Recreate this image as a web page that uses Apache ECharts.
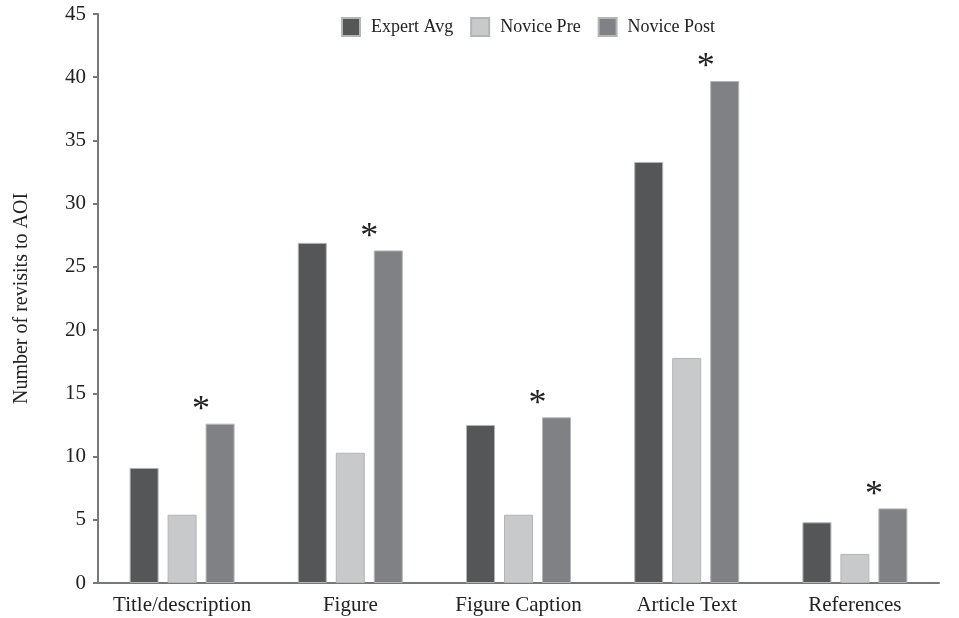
<!DOCTYPE html>
<html>
<head>
<meta charset="utf-8">
<script src="https://cdn.jsdelivr.net/npm/echarts@6/dist/echarts.min.js"></script>
<style>
  html, body { margin: 0; padding: 0; background: #fff; }
  #chart { width: 959px; height: 618px; }
</style>
</head>
<body>
<div id="chart"></div>
<script>
// Average number of revisits to each area of interest (AOI)
const categories = ['Title/description', 'Figure', 'Figure Caption', 'Article Text', 'References'];
const expertAvg  = [9.1, 26.9, 12.5, 33.3, 4.8];
const novicePre  = [5.4, 10.3, 5.4, 17.8, 2.3];
const novicePost = [12.6, 26.3, 13.1, 39.7, 5.9];
const yTicks = { min: 0, max: 45, interval: 5 };

const serif = '"Liberation Serif", "Times New Roman", serif';
const border = '#b4b5b7';

function barSeries(name, data, color, extra) {
  return Object.assign({
    name: name,
    type: 'bar',
    data: data,
    barWidth: 29,
    barGap: '31%',
    itemStyle: { color: color, borderColor: border, borderWidth: 1 }
  }, extra || {});
}

const chart = echarts.init(document.getElementById('chart'), null, { renderer: 'canvas' });
chart.setOption({
  animation: false,
  textStyle: { fontFamily: serif },
  legend: {
    top: 12,
    left: 336,
    itemWidth: 18,
    itemHeight: 18,
    itemGap: 17,
    icon: 'rect',
    textStyle: { fontFamily: serif, fontSize: 18, color: '#222', padding: [0, 0, 0, 6] },
    data: ['Expert Avg', 'Novice Pre', 'Novice Post']
  },
  grid: { left: 98, right: 20, top: 14, bottom: 35, containLabel: false },
  xAxis: {
    type: 'category',
    data: categories,
    axisLine: { lineStyle: { color: '#77787a', width: 2 } },
    axisTick: { show: false },
    axisLabel: { fontFamily: serif, fontSize: 21, color: '#222', margin: 12, interval: 0 }
  },
  yAxis: {
    type: 'value',
    min: yTicks.min,
    max: yTicks.max,
    interval: yTicks.interval,
    name: 'Number of revisits to AOI',
    nameLocation: 'middle',
    nameGap: 66,
    nameRotate: 90,
    nameTextStyle: { fontFamily: serif, fontSize: 20, color: '#222' },
    axisLine: { show: true, lineStyle: { color: '#77787a', width: 2 } },
    axisTick: { show: true, length: 5, lineStyle: { color: '#77787a', width: 2 } },
    axisLabel: { fontFamily: serif, fontSize: 21, color: '#222', margin: 12 },
    splitLine: { show: false }
  },
  series: [
    barSeries('Expert Avg', expertAvg, '#555658'),
    barSeries('Novice Pre', novicePre, '#c8c9cb'),
    barSeries('Novice Post', novicePost, '#808185', {
      label: {
        show: true,
        position: 'top',
        formatter: '*',
        fontFamily: serif,
        fontSize: 36,
        color: '#222',
        distance: 0,
        offset: [-19, 5]
      }
    })
  ]
});
</script>
</body>
</html>
